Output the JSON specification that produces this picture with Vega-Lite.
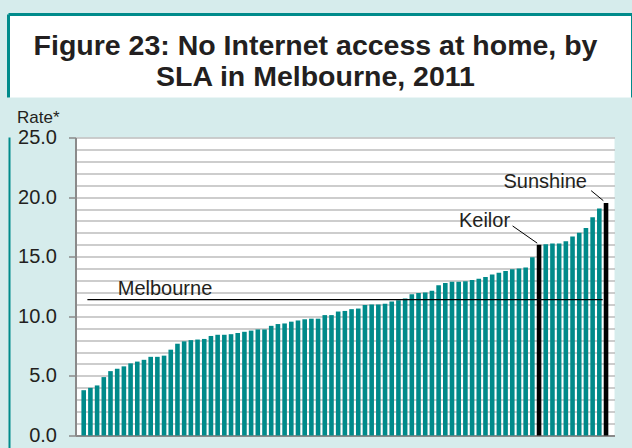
{
  "$schema": "https://vega.github.io/schema/vega-lite/v6.json",
  "background": "#d6ecec",
  "padding": {"left": 6.5, "top": 12.5, "right": 0, "bottom": 0},
  "config": {"font": "Liberation Sans", "view": {"stroke": null}},
  "spacing": 9,
  "center": false,
  "datasets": {
    "bars": [
      {"rank": 1, "rate": 3.8, "kind": "SLA"},
      {"rank": 2, "rate": 4.0, "kind": "SLA"},
      {"rank": 3, "rate": 4.2, "kind": "SLA"},
      {"rank": 4, "rate": 4.9, "kind": "SLA"},
      {"rank": 5, "rate": 5.4, "kind": "SLA"},
      {"rank": 6, "rate": 5.6, "kind": "SLA"},
      {"rank": 7, "rate": 5.8, "kind": "SLA"},
      {"rank": 8, "rate": 6.05, "kind": "SLA"},
      {"rank": 9, "rate": 6.2, "kind": "SLA"},
      {"rank": 10, "rate": 6.35, "kind": "SLA"},
      {"rank": 11, "rate": 6.6, "kind": "SLA"},
      {"rank": 12, "rate": 6.6, "kind": "SLA"},
      {"rank": 13, "rate": 6.7, "kind": "SLA"},
      {"rank": 14, "rate": 7.2, "kind": "SLA"},
      {"rank": 15, "rate": 7.7, "kind": "SLA"},
      {"rank": 16, "rate": 7.9, "kind": "SLA"},
      {"rank": 17, "rate": 8.0, "kind": "SLA"},
      {"rank": 18, "rate": 8.05, "kind": "SLA"},
      {"rank": 19, "rate": 8.1, "kind": "SLA"},
      {"rank": 20, "rate": 8.35, "kind": "SLA"},
      {"rank": 21, "rate": 8.45, "kind": "SLA"},
      {"rank": 22, "rate": 8.45, "kind": "SLA"},
      {"rank": 23, "rate": 8.5, "kind": "SLA"},
      {"rank": 24, "rate": 8.6, "kind": "SLA"},
      {"rank": 25, "rate": 8.7, "kind": "SLA"},
      {"rank": 26, "rate": 8.8, "kind": "SLA"},
      {"rank": 27, "rate": 8.9, "kind": "SLA"},
      {"rank": 28, "rate": 8.9, "kind": "SLA"},
      {"rank": 29, "rate": 9.2, "kind": "SLA"},
      {"rank": 30, "rate": 9.35, "kind": "SLA"},
      {"rank": 31, "rate": 9.4, "kind": "SLA"},
      {"rank": 32, "rate": 9.55, "kind": "SLA"},
      {"rank": 33, "rate": 9.65, "kind": "SLA"},
      {"rank": 34, "rate": 9.75, "kind": "SLA"},
      {"rank": 35, "rate": 9.8, "kind": "SLA"},
      {"rank": 36, "rate": 9.8, "kind": "SLA"},
      {"rank": 37, "rate": 10.1, "kind": "SLA"},
      {"rank": 38, "rate": 10.1, "kind": "SLA"},
      {"rank": 39, "rate": 10.4, "kind": "SLA"},
      {"rank": 40, "rate": 10.45, "kind": "SLA"},
      {"rank": 41, "rate": 10.6, "kind": "SLA"},
      {"rank": 42, "rate": 10.65, "kind": "SLA"},
      {"rank": 43, "rate": 10.95, "kind": "SLA"},
      {"rank": 44, "rate": 11.0, "kind": "SLA"},
      {"rank": 45, "rate": 11.0, "kind": "SLA"},
      {"rank": 46, "rate": 11.05, "kind": "SLA"},
      {"rank": 47, "rate": 11.25, "kind": "SLA"},
      {"rank": 48, "rate": 11.35, "kind": "SLA"},
      {"rank": 49, "rate": 11.5, "kind": "SLA"},
      {"rank": 50, "rate": 11.85, "kind": "SLA"},
      {"rank": 51, "rate": 11.95, "kind": "SLA"},
      {"rank": 52, "rate": 12.0, "kind": "SLA"},
      {"rank": 53, "rate": 12.15, "kind": "SLA"},
      {"rank": 54, "rate": 12.6, "kind": "SLA"},
      {"rank": 55, "rate": 12.8, "kind": "SLA"},
      {"rank": 56, "rate": 12.9, "kind": "SLA"},
      {"rank": 57, "rate": 12.9, "kind": "SLA"},
      {"rank": 58, "rate": 12.95, "kind": "SLA"},
      {"rank": 59, "rate": 13.05, "kind": "SLA"},
      {"rank": 60, "rate": 13.15, "kind": "SLA"},
      {"rank": 61, "rate": 13.3, "kind": "SLA"},
      {"rank": 62, "rate": 13.5, "kind": "SLA"},
      {"rank": 63, "rate": 13.65, "kind": "SLA"},
      {"rank": 64, "rate": 13.8, "kind": "SLA"},
      {"rank": 65, "rate": 13.95, "kind": "SLA"},
      {"rank": 66, "rate": 14.0, "kind": "SLA"},
      {"rank": 67, "rate": 14.1, "kind": "SLA"},
      {"rank": 68, "rate": 14.95, "kind": "SLA"},
      {"rank": 69, "rate": 16.0, "kind": "Named SLA", "sla": "Keilor"},
      {"rank": 70, "rate": 16.05, "kind": "SLA"},
      {"rank": 71, "rate": 16.1, "kind": "SLA"},
      {"rank": 72, "rate": 16.1, "kind": "SLA"},
      {"rank": 73, "rate": 16.3, "kind": "SLA"},
      {"rank": 74, "rate": 16.7, "kind": "SLA"},
      {"rank": 75, "rate": 17.0, "kind": "SLA"},
      {"rank": 76, "rate": 17.4, "kind": "SLA"},
      {"rank": 77, "rate": 18.3, "kind": "SLA"},
      {"rank": 78, "rate": 19.05, "kind": "SLA"},
      {"rank": 79, "rate": 19.5, "kind": "Named SLA", "sla": "Sunshine"}
    ],
    "refline": [{"label": "Melbourne", "rate": 11.4, "rank": 1.55, "rank_end": 78.5}],
    "labels": [
      {"label": "Melbourne", "rank": 20.2, "rate": 11.8},
      {"label": "Keilor", "rank": 64.67, "rate": 17.52},
      {"label": "Sunshine", "rank": 76.15, "rate": 20.74}
    ],
    "leaders": [
      {"label": "Keilor", "rank": 65.05, "rate": 17.58, "rank_end": 68.72, "rate_end": 16.14},
      {"label": "Sunshine", "rank": 76.78, "rate": 20.54, "rank_end": 78.6, "rate_end": 19.7}
    ]
  },
  "vconcat": [
    {
      "width": 624,
      "height": 83,
      "view": {"fill": "#ffffff", "stroke": "#008b8b", "strokeWidth": 3, "strokeDash": [707, 624, 83, 0]},
      "data": {"values": [{"title": "Figure 23: No Internet access at home, by\nSLA in Melbourne, 2011"}]},
      "mark": {"type": "text", "fontSize": 28.5, "fontWeight": "bold", "color": "#231f20", "lineBreak": "\n", "lineHeight": 31, "baseline": "middle", "align": "center", "dy": -10, "dx": -5},
      "encoding": {"text": {"field": "title", "type": "nominal"}}
    },
    {
      "spacing": 6,
      "hconcat": [
        {
          "width": 2,
          "height": 345,
          "view": {"fill": "#008b8b", "stroke": null},
          "data": {"values": []},
          "mark": {"type": "point", "opacity": 0},
          "encoding": {}
        },
        {
          "width": 539,
          "height": 298,
          "view": {"fill": "#ffffff", "stroke": null},
          "encoding": {
            "x": {"field": "rank", "type": "quantitative",
              "scale": {"domain": [0.52, 79.52], "nice": false, "zero": false},
              "axis": {"title": null, "labels": false, "ticks": false, "grid": false, "domain": true, "domainColor": "#8a8a8a", "domainWidth": 2}},
            "y": {"field": "rate", "type": "quantitative", "stack": null,
              "scale": {"domain": [0, 25], "nice": false, "zero": true},
              "axis": {
                "values": [0,1,2,3,4,5,6,7,8,9,10,11,12,13,14,15,16,17,18,19,20,21,22,23,24,25],
                "labelExpr": "datum.value % 5 === 0 ? format(datum.value, '.1f') : ''",
                "labelOverlap": false,
                "labelFontSize": 20,
                "labelColor": "#231f20",
                "labelPadding": 12,
                "grid": true,
                "gridColor": "#bdbdbd",
                "gridWidth": 1.5,
                "domain": true,
                "domainColor": "#8a8a8a",
                "domainWidth": 2,
                "ticks": true,
                "tickSize": 7,
                "tickWidth": 1.5,
                "tickColor": "#8a8a8a",
                "tickOpacity": {"condition": {"test": "datum.value % 5 === 0", "value": 1}, "value": 0},
                "title": "Rate*",
                "titleAngle": 0,
                "titleAlign": "left",
                "titleBaseline": "alphabetic",
                "titleX": -59,
                "titleY": -15,
                "titleFontSize": 17,
                "titleFontWeight": "normal",
                "titleColor": "#231f20"
              }}
          },
          "layer": [
            {
              "data": {"name": "bars"},
              "mark": {"type": "bar", "width": 4.6, "orient": "vertical"},
              "encoding": {
                "color": {"field": "kind", "type": "nominal",
                  "scale": {"domain": ["SLA", "Named SLA"], "range": ["#008a8a", "#000000"]},
                  "legend": null}
              }
            },
            {
              "data": {"name": "refline"},
              "mark": {"type": "rule", "color": "#000000", "strokeWidth": 1.3},
              "encoding": {"x2": {"field": "rank_end"}}
            },
            {
              "data": {"name": "labels"},
              "mark": {"type": "text", "align": "right", "baseline": "alphabetic", "fontSize": 20, "color": "#231f20"},
              "encoding": {"text": {"field": "label", "type": "nominal"}}
            },
            {
              "data": {"name": "leaders"},
              "mark": {"type": "rule", "color": "#000000", "strokeWidth": 1},
              "encoding": {"x2": {"field": "rank_end"}, "y2": {"field": "rate_end"}}
            }
          ]
        },
        {
          "width": 2,
          "height": 10,
          "view": {"fill": "#d6ecec", "stroke": null},
          "data": {"values": []},
          "mark": {"type": "point", "opacity": 0},
          "encoding": {}
        }
      ]
    }
  ]
}
